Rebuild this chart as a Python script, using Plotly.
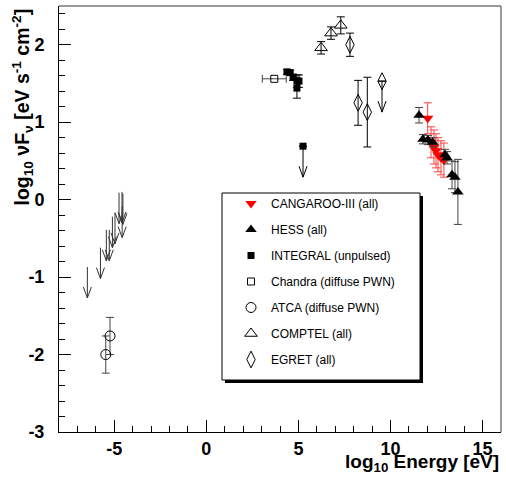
import plotly.graph_objects as go

# ---------------- data (log10 E [eV], log10 nuFnu [eV s^-1 cm^-2]) ----------------
radio_ul_x = [-6.46, -5.75, -5.43, -5.27, -5.10, -4.96, -4.74, -4.57, -4.53, -4.58]
radio_ul_y = [-0.87, -0.62, -0.39, -0.39, -0.22, -0.17, 0.09, -0.09, 0.08, 0.10]

atca_x = [-5.46, -5.23]
atca_y = [-2.00, -1.76]
atca_err = [0.24, 0.24]

chandra_x = [3.69]
chandra_y = [1.56]
chandra_xerr = [0.65]

integral_x = [4.38, 4.55, 4.71, 4.92, 5.03, 4.92]
integral_y = [1.65, 1.64, 1.58, 1.53, 1.53, 1.44]
integral_err = [0.03, 0.03, 0.04, 0.08, 0.08, 0.13]
integral_ul_x = [5.25]
integral_ul_y = [0.69]

comptel_x = [6.23, 6.77, 7.30]
comptel_y = [1.96, 2.15, 2.25]
comptel_err = [0.08, 0.08, 0.11]

egret_x = [7.80, 8.24, 8.74]
egret_y = [2.00, 1.25, 1.13]
egret_err = [0.15, 0.29, 0.45]
egret_ul_x = [9.54]
egret_ul_y = [1.53]

cangaroo_x = [12.02, 12.20, 12.36, 12.47, 12.58, 12.74, 12.90]
cangaroo_y = [1.05, 0.74, 0.68, 0.63, 0.58, 0.54, 0.51]
cangaroo_err = [0.20, 0.20, 0.22, 0.22, 0.22, 0.22, 0.22]

hess_x = [11.55, 11.76, 12.03, 12.29, 12.96, 13.07, 13.34, 13.50, 13.66]
hess_y = [1.09, 0.78, 0.77, 0.74, 0.58, 0.54, 0.32, 0.29, 0.10]
hess_err = [0.10, 0.06, 0.06, 0.06, 0.07, 0.08, 0.18, 0.20, 0.42]

x_tick_vals = [-5, 0, 5, 10, 15]
x_tick_text = ["-5", "0", "5", "10", "15"]
y_tick_vals = [-3, -2, -1, 0, 1, 2]
y_tick_text = ["-3", "-2", "-1", "0", "1", "2"]

legend_names = ["CANGAROO-III (all)", "HESS (all)", "INTEGRAL (unpulsed)",
                "Chandra (diffuse PWN)", "ATCA (diffuse PWN)", "COMPTEL (all)", "EGRET (all)"]

# ---------------- styling constants ----------------
FONT = "Liberation Sans, Arial, Helvetica, sans-serif"
W, H = 506, 477
ML, MR, MT, MB = 59, 5, 6, 45
XR = [-8, 16]
YR = [-3, 2.5]
PW, PH = W - ML - MR, H - MT - MB
ARROW_LEN = 0.4
HEAD_HW = 4.0 / PW * (XR[1] - XR[0])
HEAD_HH = 11.0 / PH * (YR[1] - YR[0])


def arrows(xs, ys):
    px, py = [], []
    for x, y in zip(xs, ys):
        tip = y - ARROW_LEN
        px += [x, x, None, x - HEAD_HW, x, x + HEAD_HW, None]
        py += [y, tip, None, tip + HEAD_HH, tip, tip + HEAD_HH, None]
    return px, py


def ebar(arr, color, width=4):
    return dict(type="data", array=arr, visible=True, color=color, thickness=1, width=width)


fig = go.Figure()

# upper-limit arrows (no legend)
for xs, ys, col in [(radio_ul_x, radio_ul_y, "#333333"),
                    (integral_ul_x, integral_ul_y, "black"),
                    (egret_ul_x, egret_ul_y, "black")]:
    ax, ay = arrows(xs, ys)
    fig.add_trace(go.Scatter(x=ax, y=ay, mode="lines", line=dict(color=col, width=1),
                             showlegend=False, hoverinfo="skip"))

# CANGAROO
fig.add_trace(go.Scatter(x=cangaroo_x, y=cangaroo_y, mode="markers", name=legend_names[0],
                         legendgroup="a",
                         marker=dict(symbol="triangle-down", size=10, color="#ff0000"),
                         error_y=ebar(cangaroo_err, "#ff4040")))
# HESS
fig.add_trace(go.Scatter(x=hess_x, y=hess_y, mode="markers", name=legend_names[1],
                         legendgroup="b",
                         marker=dict(symbol="triangle-up", size=10, color="black"),
                         error_y=ebar(hess_err, "#444444")))
# INTEGRAL
fig.add_trace(go.Scatter(x=integral_x + integral_ul_x, y=integral_y + integral_ul_y,
                         mode="markers", name=legend_names[2], legendgroup="c",
                         marker=dict(symbol="square", size=7, color="black"),
                         error_y=ebar(integral_err + [0], "black")))
# Chandra
fig.add_trace(go.Scatter(x=chandra_x, y=chandra_y, mode="markers", name=legend_names[3],
                         legendgroup="d",
                         marker=dict(symbol="square-open", size=7, color="black", line=dict(width=1)),
                         error_x=ebar(chandra_xerr, "#444444")))
# ATCA
fig.add_trace(go.Scatter(x=atca_x, y=atca_y, mode="markers", name=legend_names[4],
                         legendgroup="e",
                         marker=dict(symbol="circle-open", size=10, color="black", line=dict(width=1)),
                         error_y=ebar(atca_err, "#444444")))
# COMPTEL
fig.add_trace(go.Scatter(x=comptel_x, y=comptel_y, mode="markers", name=legend_names[5],
                         legendgroup="f",
                         marker=dict(symbol="triangle-up-open", size=11, color="black", line=dict(width=1)),
                         error_y=ebar(comptel_err, "black")))
# EGRET
fig.add_trace(go.Scatter(x=egret_x + egret_ul_x, y=egret_y + egret_ul_y, mode="markers",
                         name=legend_names[6], legendgroup="g",
                         marker=dict(symbol="diamond-tall-open", size=12, color="black", line=dict(width=1)),
                         error_y=ebar(egret_err + [0], "black")))

# ---------------- legend box (ROOT-style with shadow) ----------------
def px2x(p):
    return (p - ML) / PW


def py2y(p):
    return (H - MB - p) / PH


bx0, bx1, by0, by1 = 222, 420, 193, 380
sh = 3
shapes = [
    dict(type="rect", xref="paper", yref="paper", x0=px2x(bx0 + sh), x1=px2x(bx1 + sh),
         y0=py2y(by1 + sh), y1=py2y(by0 + sh), fillcolor="black", line=dict(width=0), layer="above"),
    dict(type="rect", xref="paper", yref="paper", x0=px2x(bx0), x1=px2x(bx1),
         y0=py2y(by1), y1=py2y(by0), fillcolor="white", line=dict(color="black", width=1), layer="above"),
    # frame (top / right in gray)
    dict(type="line", xref="paper", yref="paper", x0=0, x1=1, y0=1, y1=1,
         line=dict(color="#777777", width=1.5)),
    dict(type="line", xref="paper", yref="paper", x0=1, x1=1, y0=0, y1=1,
         line=dict(color="#777777", width=1.5)),
]

fig.update_layout(
    width=W, height=H,
    margin=dict(l=ML, r=MR, t=MT, b=MB, pad=0, autoexpand=False),
    paper_bgcolor="white", plot_bgcolor="white",
    font=dict(family=FONT, color="black"),
    shapes=shapes,
    showlegend=True,
    legend=dict(x=px2x(231), y=py2y(189), xanchor="left", yanchor="top",
                bgcolor="rgba(0,0,0,0)", borderwidth=0,
                font=dict(family=FONT, size=12, color="black"),
                traceorder="grouped", tracegroupgap=7, itemwidth=30),
    xaxis=dict(range=XR, showgrid=False, zeroline=False, showline=True, linecolor="black",
               linewidth=1, ticks="inside", ticklen=12, tickcolor="black", tickwidth=1,
               automargin=False,
               tickvals=x_tick_vals, ticktext=x_tick_text,
               tickfont=dict(family=FONT, size=18, weight="bold"),
               minor=dict(ticks="inside", ticklen=6, dtick=1, tick0=0, tickcolor="black", showgrid=False)),
    yaxis=dict(range=YR, showgrid=False, zeroline=False, showline=True, linecolor="black",
               linewidth=1, ticks="inside", ticklen=12, tickcolor="black", tickwidth=1,
               automargin=False,
               tickvals=y_tick_vals, ticktext=y_tick_text, ticklabelstandoff=10,
               tickfont=dict(family=FONT, size=18, weight="bold"),
               minor=dict(ticks="inside", ticklen=6, dtick=0.2, tick0=0, tickcolor="black", showgrid=False)),
    annotations=[
        dict(text="<b>log<sub>10</sub> Energy [eV]</b>", xref="paper", yref="paper",
             x=1.0, y=py2y(477), xanchor="right", yanchor="bottom", showarrow=False,
             font=dict(family=FONT, size=19, color="black")),
        dict(text="<b>log<sub>10</sub> νF<sub>ν</sub> [eV s<sup>-1</sup> cm<sup>-2</sup>]</b>",
             xref="paper", yref="paper", x=px2x(22), y=py2y(7), xanchor="center", yanchor="top",
             textangle=-90, showarrow=False, font=dict(family=FONT, size=19.5, color="black")),
    ],
)

fig.write_html("out.html", config={"displayModeBar": False},
               post_script="document.body.style.margin='0px';document.body.style.padding='0px';")
